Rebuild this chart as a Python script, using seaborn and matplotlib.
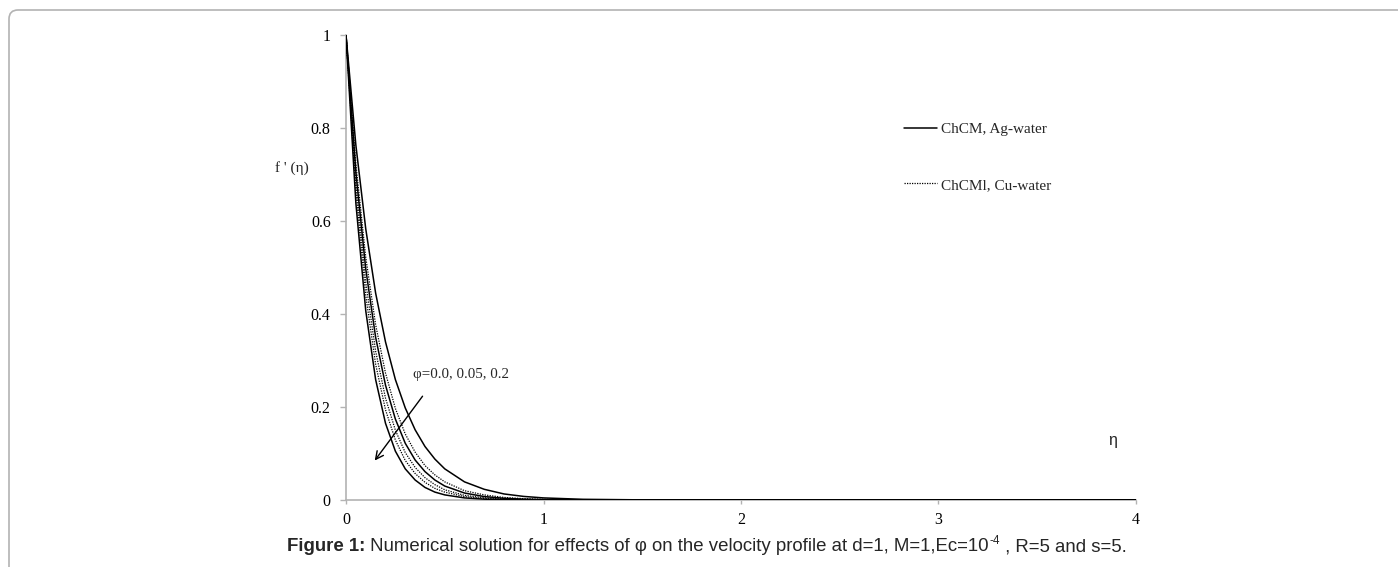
import numpy as np
import pandas as pd
import matplotlib
matplotlib.use('Agg')
import matplotlib.pyplot as plt
from matplotlib.patches import FancyBboxPatch
from matplotlib.transforms import IdentityTransform
import seaborn as sns

# values
eta = [0, 0.05, 0.1, 0.15, 0.2, 0.25, 0.3, 0.35, 0.4, 0.45, 0.5,
       0.6, 0.7, 0.8, 0.9, 1.0, 1.2, 1.5, 2, 3, 4]

ag_phi0 = [1, 0.763, 0.583, 0.445, 0.340, 0.259, 0.198, 0.151, 0.115, 0.088, 0.067,
           0.039, 0.023, 0.013, 0.0077, 0.0045, 0.0015, 0.0003, 0, 0, 0]
ag_phi005 = [1, 0.705, 0.497, 0.350, 0.247, 0.174, 0.122, 0.086, 0.061, 0.043, 0.030,
             0.015, 0.0074, 0.0037, 0.0018, 0.0009, 0.0002, 0, 0, 0, 0]
ag_phi02 = [1, 0.638, 0.407, 0.259, 0.165, 0.105, 0.067, 0.043, 0.027, 0.017, 0.011,
            0.0045, 0.0018, 0.0007, 0.0003, 0.0001, 0, 0, 0, 0, 0]

cu_phi0 = [1, 0.723, 0.522, 0.377, 0.273, 0.197, 0.142, 0.103, 0.074, 0.054, 0.039,
           0.020, 0.011, 0.0055, 0.0029, 0.0015, 0.0004, 0.0001, 0, 0, 0]
cu_phi005 = [1, 0.684, 0.468, 0.320, 0.219, 0.150, 0.102, 0.070, 0.048, 0.033, 0.022,
             0.010, 0.0049, 0.0023, 0.0011, 0.0005, 0.0001, 0, 0, 0, 0]
cu_phi02 = [1, 0.664, 0.440, 0.292, 0.194, 0.129, 0.085, 0.057, 0.038, 0.025, 0.017,
            0.0073, 0.0032, 0.0014, 0.0006, 0.0003, 0, 0, 0, 0, 0]

legend_labels = ['ChCM, Ag-water', 'ChCMl, Cu-water']
y_ticks = [0, 0.2, 0.4, 0.6, 0.8, 1]
y_ticklabels = ['0', '0.2', '0.4', '0.6', '0.8', '1']
x_ticks = [0, 1, 2, 3, 4]

sns.set_style('white')
plt.rcParams['font.family'] = ['Liberation Serif', 'DejaVu Serif']

fig = plt.figure(figsize=(13.98, 5.67), dpi=100)
ax = fig.add_axes([346 / 1398, 67 / 567, 790 / 1398, 465 / 567])

gray = '#b3b3b3'
solid_lines = []
dotted_lines = []
for vals in [ag_phi0, ag_phi005, ag_phi02]:
    sns.lineplot(x=eta, y=vals, ax=ax, color='black', linewidth=1.1, legend=False,
                 zorder=3)
    solid_lines.append(ax.lines[-1])
for vals in [cu_phi0, cu_phi005, cu_phi02]:
    sns.lineplot(x=eta, y=vals, ax=ax, color='black', linewidth=0.9,
                 linestyle=(0, (1, 1)), legend=False, zorder=3)
    dotted_lines.append(ax.lines[-1])

ax.set_xlim(0, 4)
ax.set_ylim(0, 1)
ax.set_yticks(y_ticks)
ax.set_yticklabels(y_ticklabels)
ax.set_xticks(x_ticks)
ax.set_xticklabels([str(t) for t in x_ticks])

for s in ['top', 'right']:
    ax.spines[s].set_visible(False)
for s in ['left', 'bottom']:
    ax.spines[s].set_color(gray)
    ax.spines[s].set_linewidth(1.2)
    ax.spines[s].set_zorder(1)

ax.tick_params(axis='y', left=True, length=4, width=1, color=gray, pad=7,
               labelsize=11.5, labelcolor='black')
ax.tick_params(axis='x', bottom=True, length=3, width=1, color=gray, pad=6,
               labelsize=11.5, labelcolor='black')

ax.set_xlabel('')
ax.set_ylabel("f ' (η)", rotation=0, fontsize=11, ha='center', va='center')
ax.yaxis.set_label_coords(-0.068, 0.714)

ax.text(3.88, 0.129, 'η', fontsize=11.5, family='Liberation Sans',
        ha='center', va='center')

ax.legend([solid_lines[0], dotted_lines[0]], legend_labels,
          loc='upper left', bbox_to_anchor=(0.706, 0.812), frameon=False,
          fontsize=11, handlelength=2.2, handletextpad=0.25,
          labelspacing=2.75, borderpad=0, borderaxespad=0)

ax.text(0.34, 0.269, 'φ=0.0, 0.05, 0.2', fontsize=10.8, ha='left', va='center')
ax.annotate('', xy=(0.137, 0.080), xytext=(0.396, 0.228),
            arrowprops=dict(arrowstyle='->', lw=1, color='black', mutation_scale=14))

# page frame around the figure
frame = FancyBboxPatch((9, -60), 1500, 557 + 60, boxstyle='round,pad=0,rounding_size=9',
                       transform=IdentityTransform(), facecolor='none',
                       edgecolor=gray, linewidth=1.2)
fig.add_artist(frame)

# caption
cap_y = 12 / 567
cap_size = 13.4
t1 = fig.text(287 / 1398, cap_y, 'Figure 1:', family='Liberation Sans',
              fontweight='bold', fontsize=cap_size, ha='left', va='bottom')
t2 = ax.annotate(' Numerical solution for effects of φ on the velocity profile at d=1, M=1,Ec=10',
                 xy=(1, 0), xycoords=t1, ha='left', va='bottom',
                 family='Liberation Sans', fontsize=cap_size, annotation_clip=False)
t3 = ax.annotate('-4', xy=(1, 0.45), xycoords=t2, ha='left', va='bottom',
                 family='Liberation Sans', fontsize=8.5, annotation_clip=False)
t4 = ax.annotate(' , R=5 and s=5.', xy=(1, 0), xycoords=(t3, t2), ha='left', va='bottom',
                 family='Liberation Sans', fontsize=cap_size, annotation_clip=False)

fig.savefig('out.png', dpi=100)
